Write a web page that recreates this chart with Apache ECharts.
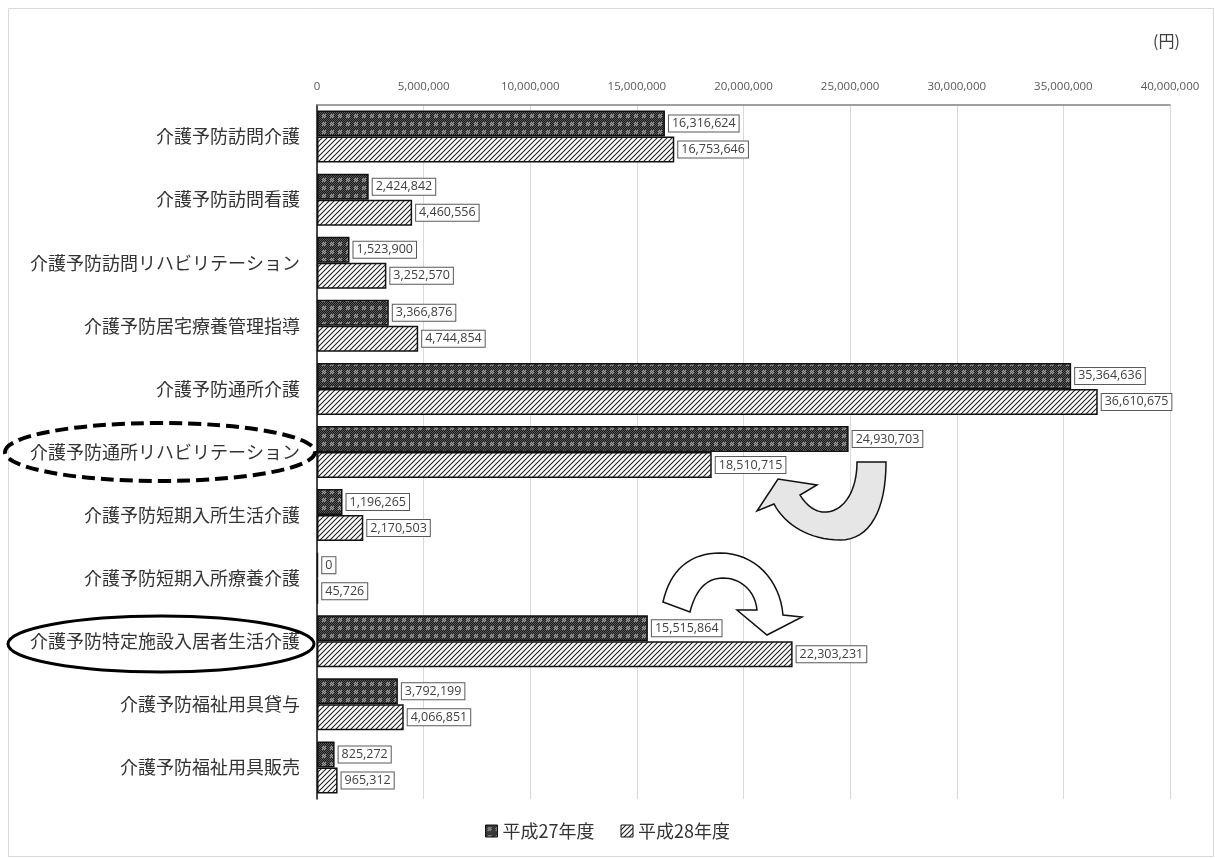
<!DOCTYPE html>
<html><head><meta charset="utf-8">
<script src="https://cdn.jsdelivr.net/npm/echarts@6/dist/echarts.min.js"></script>
<style>html,body{margin:0;padding:0;background:#fff}#c{width:1215px;height:858px}</style>
</head><body><div id="c"></div>
<script>
const categories = ['介護予防訪問介護','介護予防訪問看護','介護予防訪問リハビリテーション','介護予防居宅療養管理指導','介護予防通所介護','介護予防通所リハビリテーション','介護予防短期入所生活介護','介護予防短期入所療養介護','介護予防特定施設入居者生活介護','介護予防福祉用具貸与','介護予防福祉用具販売'];
const seriesNames = ['平成27年度','平成28年度'];
const values27 = [16316624,2424842,1523900,3366876,35364636,24930703,1196265,0,15515864,3792199,825272];
const values28 = [16753646,4460556,3252570,4744854,36610675,18510715,2170503,45726,22303231,4066851,965312];
const axisMax = 40000000, axisStep = 5000000;

function patternDark(){
  const c=document.createElement('canvas');c.width=8;c.height=8;const g=c.getContext('2d');
  g.fillStyle='#181818';g.fillRect(0,0,8,8);
  for(let y=0;y<8;y++)for(let x=0;x<8;x++){
    if((x+y)%2===0){g.fillStyle='#5a5a5a';g.fillRect(x,y,1,1);}
  }
  g.fillStyle='#a0a0a0';
  for(let y=2;y<6;y++)for(let x=2;x<6;x++){ if((x+y)%2===1) g.fillRect(x,y,1,1);}
  return c;
}
function patternDiag(){
  const c=document.createElement('canvas');c.width=5;c.height=5;const g=c.getContext('2d');
  g.fillStyle='#ffffff';g.fillRect(0,0,5,5);
  g.strokeStyle='#222';g.lineWidth=1.1;
  g.beginPath();g.moveTo(-1,6);g.lineTo(6,-1);g.moveTo(-1,1);g.lineTo(1,-1);g.moveTo(4,6);g.lineTo(6,4);g.stroke();
  return c;
}
function pathPoints(spec){
  const t=spec.trim().split(/\s+/);let i=0,pts=[],cur=null;
  while(i<t.length){
    const cmd=t[i++];
    if(cmd==='M'||cmd==='L'){cur=[+t[i],+t[i+1]];i+=2;pts.push(cur);}
    else if(cmd==='C'){
      const p1=[+t[i],+t[i+1]],p2=[+t[i+2],+t[i+3]],p3=[+t[i+4],+t[i+5]];i+=6;
      const p0=cur;
      for(let k=1;k<=16;k++){const s=k/16,u=1-s;
        pts.push([u*u*u*p0[0]+3*u*u*s*p1[0]+3*u*s*s*p2[0]+s*s*s*p3[0],u*u*u*p0[1]+3*u*u*s*p1[1]+3*u*s*s*p2[1]+s*s*s*p3[1]]);}
      cur=p3;
    }
  }
  return pts;
}
const fmt = v => Number(v).toLocaleString('en-US');
const chart = echarts.init(document.getElementById('c'));
const labelCfg = {show:true,position:'right',distance:4,formatter:p=>fmt(p.value),backgroundColor:'#fff',borderColor:'#595959',borderWidth:1,padding:[2,3,1,3],fontSize:12.5,color:'#404040',fontFamily:'"Open Sans","Noto Sans",sans-serif'};
chart.setOption({
  animation:false,
  grid:{left:317,right:45,top:105,bottom:59},
  xAxis:{type:'value',position:'top',min:0,max:axisMax,interval:axisStep,
    axisLabel:{formatter:fmt,fontSize:11.5,color:'#595959',margin:12,fontFamily:'"Open Sans","Noto Sans",sans-serif'},
    axisLine:{show:true,lineStyle:{color:'#808080',width:1.5}},axisTick:{show:false},
    splitLine:{lineStyle:{color:'#d9d9d9'}}},
  yAxis:{type:'category',data:categories,inverse:true,
    axisLine:{show:true,lineStyle:{color:'#111',width:1.5}},axisTick:{show:false},
    axisLabel:{fontSize:18,color:'#333',margin:17,fontFamily:'"Noto Sans CJK JP",sans-serif'}},
  legend:{bottom:13,left:'center',itemGap:26,itemWidth:12,itemHeight:12,icon:'rect',
    textStyle:{fontSize:18,color:'#333',fontFamily:'"Noto Sans CJK JP",sans-serif'},
    itemStyle:{borderColor:'#111',borderWidth:1}},
  series:[
    {name:seriesNames[0],type:'bar',data:values27,barWidth:26,barGap:'0%',barMinHeight:1,
     itemStyle:{color:{image:patternDark(),repeat:'repeat'},borderColor:'#111',borderWidth:1.5},label:labelCfg},
    {name:seriesNames[1],type:'bar',data:values28,barWidth:26,barGap:'0%',
     itemStyle:{color:{image:patternDiag(),repeat:'repeat'},borderColor:'#111',borderWidth:1.5},label:labelCfg}
  ],
  graphic:[
    {type:'rect',shape:{x:8.5,y:8.5,width:1205,height:848},style:{fill:null,stroke:'#d9d9d9',lineWidth:1},silent:true,z:-1},
    {type:'text',x:1153,y:33,style:{text:'(円)',fontSize:16,fill:'#404040',fontFamily:'"Noto Sans CJK JP",sans-serif'}},
    {type:'ellipse',shape:{cx:160,cy:452,rx:155,ry:29},style:{fill:null,stroke:'#000',lineWidth:4,lineDash:[13,6]},z:10},
    {type:'ellipse',shape:{cx:161,cy:644,rx:153,ry:28},style:{fill:null,stroke:'#000',lineWidth:3},z:10},
    {type:'polygon',shape:{points:pathPoints('M 886 462 C 886 510 870 540 840 540 C 810 540 785 525 774 504 L 757 511 L 778 479 L 817 485 L 800 495 C 808 508 818 513 827 512 C 845 510 857 490 857 462 Z')},
     style:{fill:'#e6e6e6',stroke:'#111',lineWidth:1.5},z:10},
    {type:'polygon',shape:{points:pathPoints('M 663 602 C 670 570 690 553 720 553 C 755 553 780 580 783 615 L 802 617 L 767 635 L 737 610 L 757 610 C 755 590 740 578 723 578 C 705 578 695 592 690 612 Z')},
     style:{fill:'#fff',stroke:'#111',lineWidth:1.5},z:10}
  ]
});
</script></body></html>
